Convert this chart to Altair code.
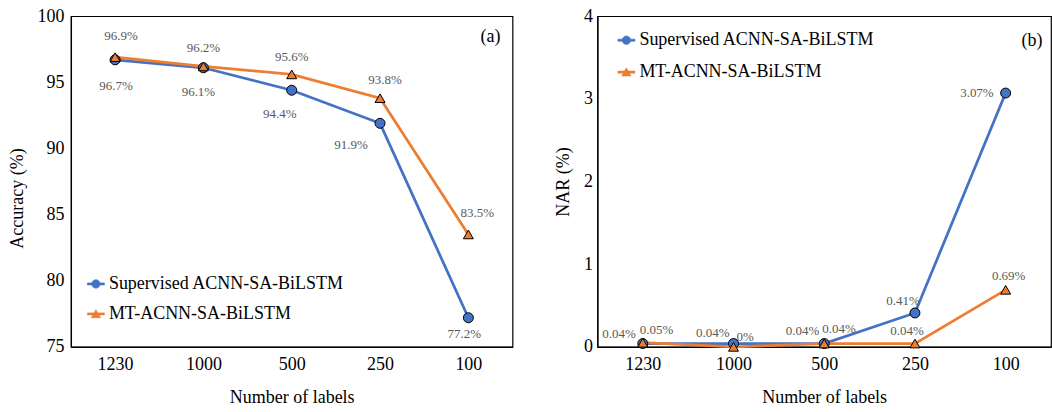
import altair as alt
import pandas as pd

categories = ["1230", "1000", "500", "250", "100"]
series_names = ["Supervised ACNN-SA-BiLSTM", "MT-ACNN-SA-BiLSTM"]
acc_sup = [96.7, 96.1, 94.4, 91.9, 77.2]
acc_mt = [96.9, 96.2, 95.6, 93.8, 83.5]
nar_sup = [0.04, 0.04, 0.04, 0.41, 3.07]
nar_mt = [0.05, 0.0, 0.04, 0.04, 0.69]
acc_ticks = [75, 80, 85, 90, 95, 100]
nar_ticks = [0, 1, 2, 3, 4]

FONT = "Liberation Serif"
BLUE = "#4472C4"
ORANGE = "#ED7D31"
LABEL_GREY = "#595959"

SUP, MT = series_names
SHAPES = {SUP: "circle", MT: "triangle-up"}

# legend symbols: line segment + small marker (unit square -1..1)
CIRCLE_PATH = ("M-1,-0.12L-0.485,-0.12A0.5,0.5,0,0,1,0.485,-0.12L1,-0.12L1,0.12"
               "L0.485,0.12A0.5,0.5,0,0,1,-0.485,0.12L-1,0.12Z")
TRI_PATH = ("M-1,-0.12L-0.22,-0.12L0,-0.5L0.22,-0.12L1,-0.12L1,0.12L0.359,0.12"
            "L0.55,0.45L-0.55,0.45L-0.359,0.12L-1,0.12Z")
SYMBOL_EXPR = f"datum.value === '{SUP}' ? '{CIRCLE_PATH}' : '{TRI_PATH}'"


def make_df(sup, mt):
    rows = []
    for name, vals in zip(series_names, [sup, mt]):
        for c, v in zip(categories, vals):
            rows.append({"labels": c, "series": name, "value": v, "text": f"{v:g}%"})
    return pd.DataFrame(rows)


color_scale = alt.Scale(domain=series_names, range=[BLUE, ORANGE])


def panel(df, ytitle, ydomain, yticks, w, h, legend_xy, row_pad, tag, tag_xy,
          offsets, y_label_pad, y_title_pad, y_title_y=None):
    x = alt.X("labels:N", sort=categories, title="Number of labels",
              axis=alt.Axis(labelAngle=0, ticks=False, labelPadding=9, titlePadding=15))
    yaxis_kw = dict(values=yticks, ticks=False, grid=False, labelPadding=y_label_pad,
                    titlePadding=y_title_pad)
    if y_title_y is not None:
        yaxis_kw["titleY"] = y_title_y
    y = alt.Y("value:Q", title=ytitle,
              scale=alt.Scale(domain=ydomain, nice=False, zero=False),
              axis=alt.Axis(**yaxis_kw))
    legend = alt.Legend(orient="none", legendX=legend_xy[0], legendY=legend_xy[1],
                        title=None, labelFont=FONT, labelFontSize=18, labelColor="black",
                        labelLimit=0,
                        symbolType={"expr": SYMBOL_EXPR}, symbolSize=289,
                        symbolStrokeColor="black", symbolStrokeWidth=0.6,
                        rowPadding=row_pad, labelOffset=4, padding=0)
    color = alt.Color("series:N", scale=color_scale, legend=legend, sort=series_names)
    base = alt.Chart(df)
    line = base.mark_line(strokeWidth=2.75).encode(x=x, y=y, color=color)
    point_layers = []
    for s in series_names:
        point_layers.append(
            base.transform_filter(alt.datum.series == s)
            .mark_point(filled=True, size=100, shape=SHAPES[s], stroke="black",
                        strokeWidth=1, opacity=1)
            .encode(x=x, y=y, color=color)
        )
    texts = []
    for (s, c), (align, dx, dy) in offsets.items():
        texts.append(
            base.transform_filter((alt.datum.series == s) & (alt.datum.labels == c))
            .mark_text(align=align, baseline="middle", dx=dx, dy=dy, font=FONT,
                       fontSize=13, color=LABEL_GREY)
            .encode(x=x, y=y, text="text:N")
        )
    tag_mark = alt.Chart(pd.DataFrame({"t": [tag]})).mark_text(
        font=FONT, fontSize=18, color="black", align="center", baseline="middle"
    ).encode(x=alt.value(tag_xy[0]), y=alt.value(tag_xy[1]), text="t:N")
    return alt.layer(line, *point_layers, *texts, tag_mark).properties(width=w, height=h)


acc_offsets = {
    (MT, "1230"): ("center", 6, -21),
    (MT, "1000"): ("center", 0, -18),
    (MT, "500"): ("center", 0, -17),
    (MT, "250"): ("center", 5, -18),
    (MT, "100"): ("center", 9, -21),
    (SUP, "1230"): ("center", 1, 26),
    (SUP, "1000"): ("center", -5, 24),
    (SUP, "500"): ("center", -12, 24),
    (SUP, "250"): ("center", -29, 22),
    (SUP, "100"): ("center", -4, 16),
}
nar_offsets = {
    (SUP, "1230"): ("right", -7, -10),
    (SUP, "1000"): ("right", -4, -11),
    (SUP, "500"): ("right", -5, -13),
    (SUP, "250"): ("center", -12, -12),
    (SUP, "100"): ("right", -12, 0),
    (MT, "1230"): ("left", -3, -13),
    (MT, "1000"): ("left", 3, -10),
    (MT, "500"): ("left", -2, -15),
    (MT, "250"): ("center", -8, -13),
    (MT, "100"): ("center", 3, -14),
}

left = panel(make_df(acc_sup, acc_mt), "Accuracy (%)", [75, 100], acc_ticks, 442, 331,
             (16, 259), 12, "(a)", (420, 21), acc_offsets, 7, 10, y_title_y=182)
right = panel(make_df(nar_sup, nar_mt), "NAR (%)", [0, 4], nar_ticks, 454, 331,
              (20, 15), 14, "(b)", (435, 25), nar_offsets, 5, 11)

chart = alt.hconcat(left, right, spacing=40).resolve_legend(
    color="independent"
).resolve_scale(y="independent").properties(
    padding={"left": 8, "top": 6, "right": 0, "bottom": 0},
    background="white"
).configure_view(
    stroke="black", strokeWidth=1.2
).configure_axis(
    labelFont=FONT, labelFontSize=18, labelColor="black",
    titleFont=FONT, titleFontSize=18, titleFontWeight="normal", titleColor="black",
    domainColor="black", domainWidth=1.2, grid=False
)

chart.save("out.html", embed_options={"renderer": "svg", "actions": False})
